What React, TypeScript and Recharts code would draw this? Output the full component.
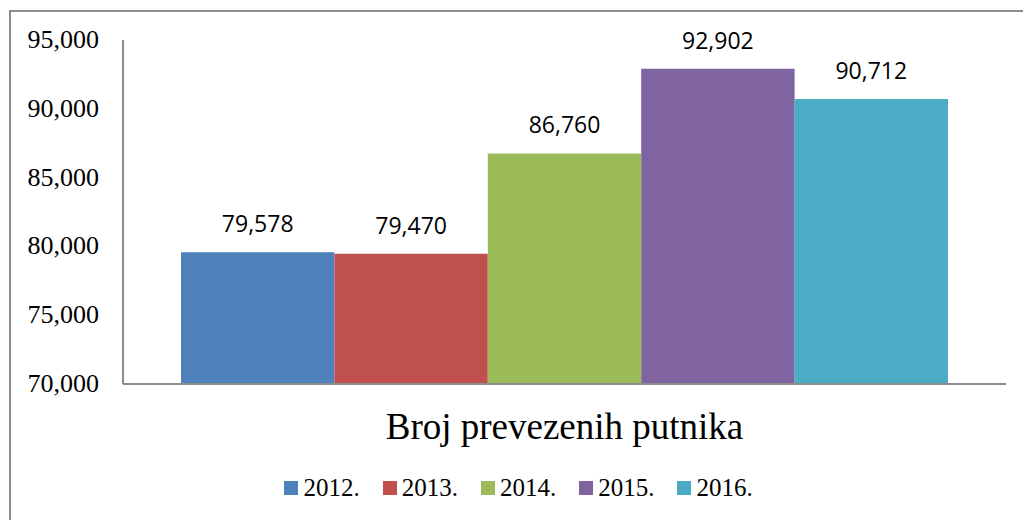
import { Bar, BarChart, LabelList, XAxis, YAxis } from "recharts";

const category = "Broj prevezenih putnika";
const years = ["2012.", "2013.", "2014.", "2015.", "2016."];
const passengers = [79578, 79470, 86760, 92902, 90712];
const colors = ["#4F81BD", "#C0504D", "#9BBB59", "#8064A2", "#4BACC6"];
const yTicks = [70000, 75000, 80000, 85000, 90000, 95000];

const serif = '"Liberation Serif", "Times New Roman", serif';
const sans = '"Open Sans", "Noto Sans", sans-serif';

const row: Record<string, string | number> = { name: category };
years.forEach((y, i) => {
  row[y] = passengers[i];
});
const chartData = [row];

const fmt = (v: number) => v.toLocaleString("en-US");

function YTick(props: any) {
  const { x, y, payload } = props;
  return (
    <text x={x} y={y} dy={8} textAnchor="end" fill="#000" fontFamily={serif} fontSize={26}>
      {fmt(payload.value)}
    </text>
  );
}

function XTick(props: any) {
  const { x, y, payload } = props;
  return (
    <text x={x} y={y} dy={26} textAnchor="middle" fill="#000" fontFamily={serif} fontSize={37}>
      {payload.value}
    </text>
  );
}

function LegendBox() {
  return (
    <div
      style={{
        position: "absolute",
        left: 0,
        top: 474,
        width: 1023,
        display: "flex",
        justifyContent: "center",
        paddingLeft: 14,
        boxSizing: "border-box",
        fontFamily: serif,
        fontSize: 25,
        lineHeight: "28px",
        color: "#000",
      }}
    >
      {years.map((y, i) => (
        <div key={y} style={{ display: "flex", alignItems: "center", marginRight: i < years.length - 1 ? 23 : 0 }}>
          <span style={{ display: "inline-block", width: 14, height: 14, background: colors[i], marginRight: 5 }} />
          <span>{y}</span>
        </div>
      ))}
    </div>
  );
}

export default function App() {
  return (
    <div style={{ position: "absolute", left: 0, top: 0, width: 1023, height: 520, overflow: "hidden", background: "#fff" }}>
      <div
        style={{
          position: "absolute",
          left: 9,
          top: 10,
          width: 1040,
          height: 540,
          border: "2px solid #8e8e8e",
          boxSizing: "border-box",
        }}
      />
      <div style={{ position: "absolute", left: 0, top: 0 }}>
        <BarChart
          width={1023}
          height={520}
          data={chartData}
          margin={{ top: 40, right: 17, bottom: 106, left: 10 }}
          barSize={153.4}
          barGap={0}
          style={{ fontFamily: serif }}
        >
          <XAxis
            dataKey="name"
            height={30}
            axisLine={{ stroke: "#8c8c8c", strokeWidth: 2 }}
            tickLine={false}
            tickSize={0}
            tickMargin={29}
            tick={<XTick />}
          />
          <YAxis
            width={113}
            domain={[70000, 95000]}
            ticks={yTicks}
            interval={0}
            axisLine={{ stroke: "#8c8c8c", strokeWidth: 2 }}
            tickLine={false}
            tickSize={0}
            tickMargin={24}
            tick={(p: any) => <YTick {...p} />}
          />
          {years.map((y, i) => (
            <Bar key={y} dataKey={y} fill={colors[i]} isAnimationActive={false}>
              <LabelList
                dataKey={y}
                position="top"
                offset={20}
                formatter={(v: number) => fmt(v)}
                style={{ fill: "#000", fontFamily: sans, fontSize: 23 }}
              />
            </Bar>
          ))}
        </BarChart>
      </div>
      <LegendBox />
    </div>
  );
}
